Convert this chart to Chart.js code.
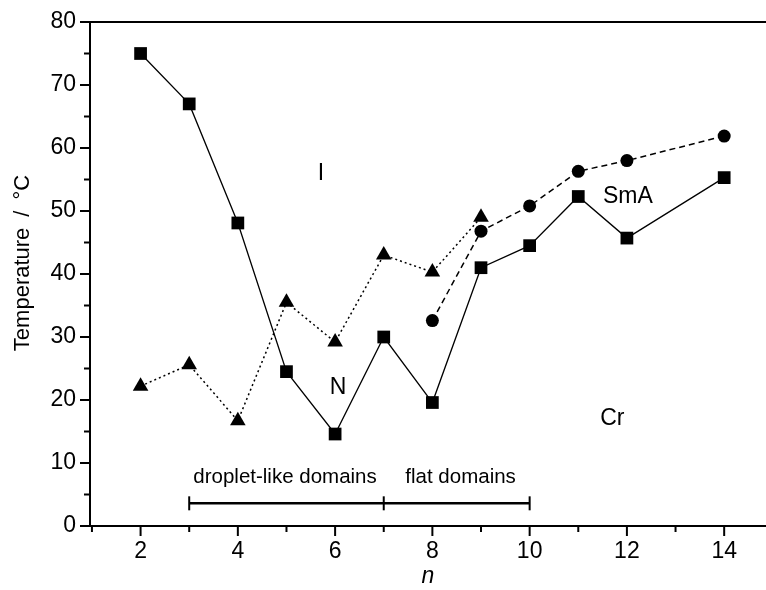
<!DOCTYPE html>
<html>
<head>
<meta charset="utf-8">
<script src="https://cdn.jsdelivr.net/npm/chart.js@4/dist/chart.umd.min.js"></script>
<style>
  body { margin: 0; background: #fff; }
  #wrap { width: 766px; height: 590px; }
</style>
</head>
<body>
<div id="wrap"><canvas id="phaseChart" width="766" height="590"></canvas></div>
<script>
// Cr -> N / SmA melting (squares, solid)
var nSquare = [2, 3, 4, 5, 6, 7, 8, 9, 10, 11, 12, 14];
var tSquare = [75, 67, 48.1, 24.5, 14.6, 30, 19.6, 41, 44.5, 52.3, 45.7, 55.3];
// N -> I clearing (triangles, dotted)
var nTriangle = [2, 3, 4, 5, 6, 7, 8, 9];
var tTriangle = [22.2, 25.6, 16.7, 35.5, 29.2, 43, 40.3, 49];
// SmA -> N / I (circles, dashed)
var nCircle = [8, 9, 10, 11, 12, 14];
var tCircle = [32.6, 46.8, 50.8, 56.3, 58, 61.9];
// domain range markers
var nDomain = [3, 7, 10];
var tDomain = [3.6, 3.6, 3.6];

// phase labels and domain captions: [text, n, T]
var phaseLabels = [["I", 5.71, 56], ["N", 6.06, 22], ["SmA", 12.02, 52.3], ["Cr", 11.7, 17]];
var domainLabels = [["droplet-like domains", 4.97, 7.8], ["flat domains", 8.58, 7.8]];

function toPoints(xs, ys) {
    var out = [];
    for (var i = 0; i < xs.length; i++) out.push({x: xs[i], y: ys[i]});
    return out;
}

var fontFamily = "'Liberation Sans', Arial, sans-serif";

var decorPlugin = {
    id: "decor",
    afterDraw: function(chart) {
        var ctx = chart.ctx;
        var area = chart.chartArea;
        var xs = chart.scales.x, ys = chart.scales.y;
        ctx.save();
        ctx.strokeStyle = "#000";
        ctx.lineWidth = 2;
        // top frame line
        ctx.beginPath();
        ctx.moveTo(area.left - 1, area.top);
        ctx.lineTo(chart.width, area.top);
        ctx.stroke();
        // x ticks
        xs.ticks.forEach(function(t) {
            var px = xs.getPixelForValue(t.value);
            var len = t.value % 2 === 0 ? 10 : 6;
            ctx.beginPath();
            ctx.moveTo(px, area.bottom);
            ctx.lineTo(px, area.bottom + len);
            ctx.stroke();
        });
        // y ticks
        ys.ticks.forEach(function(t) {
            var py = ys.getPixelForValue(t.value);
            var len = t.value % 10 === 0 ? 10 : 6;
            ctx.beginPath();
            ctx.moveTo(area.left, py);
            ctx.lineTo(area.left - len, py);
            ctx.stroke();
        });
        // text labels
        ctx.fillStyle = "#000";
        ctx.textAlign = "center";
        ctx.textBaseline = "middle";
        ctx.font = "23px " + fontFamily;
        phaseLabels.forEach(function(l) {
            ctx.fillText(l[0], xs.getPixelForValue(l[1]), ys.getPixelForValue(l[2]));
        });
        ctx.font = "20.5px " + fontFamily;
        domainLabels.forEach(function(l) {
            ctx.fillText(l[0], xs.getPixelForValue(l[1]), ys.getPixelForValue(l[2]));
        });
        ctx.restore();
    }
};

var phaseChart = new Chart(document.getElementById("phaseChart"), {
    type: "line",
    data: {
        datasets: [
            {
                label: "domains",
                data: toPoints(nDomain, tDomain),
                borderColor: "#000",
                borderWidth: 2.5,
                pointStyle: "line",
                rotation: 90,
                pointRadius: 7,
                pointBorderWidth: 2,
                pointBorderColor: "#000",
                fill: false
            },
            {
                label: "triangles",
                data: toPoints(nTriangle, tTriangle),
                borderColor: "#000",
                borderWidth: 1.5,
                borderDash: [2, 3],
                pointStyle: "triangle",
                pointRadius: 9,
                pointBackgroundColor: "#000",
                pointBorderColor: "#000",
                pointBorderWidth: 0,
                fill: false
            },
            {
                label: "circles",
                data: toPoints(nCircle, tCircle),
                borderColor: "#000",
                borderWidth: 1.5,
                borderDash: [6, 4],
                pointStyle: "circle",
                pointRadius: 6.5,
                pointBackgroundColor: "#000",
                pointBorderColor: "#000",
                pointBorderWidth: 0,
                fill: false
            },
            {
                label: "squares",
                data: toPoints(nSquare, tSquare),
                borderColor: "#000",
                borderWidth: 1.3,
                pointStyle: "rect",
                pointRadius: 9,
                pointBackgroundColor: "#000",
                pointBorderColor: "#000",
                pointBorderWidth: 0,
                fill: false
            }
        ]
    },
    options: {
        responsive: false,
        animation: false,
        layout: { autoPadding: false, padding: { top: 22, right: 0, left: 0, bottom: 0 } },
        plugins: { legend: { display: false }, tooltip: { enabled: false } },
        scales: {
            x: {
                type: "linear",
                min: 0.96,
                max: 14.86,
                afterFit: function(s) {
                    s.height = 64;
                    s.paddingLeft = 0;
                    s.paddingRight = 0;
                },
                border: { display: true, color: "#000", width: 2 },
                grid: { display: true, drawOnChartArea: false, drawTicks: false },
                ticks: {
                    stepSize: 1,
                    includeBounds: false,
                    autoSkip: false,
                    maxRotation: 0,
                    padding: 12,
                    color: "#000",
                    font: { family: fontFamily, size: 23 },
                    callback: function(v) { return v % 2 === 0 ? String(v) : ""; }
                },
                title: {
                    display: true,
                    text: "n",
                    color: "#000",
                    padding: { top: 0, bottom: 0 },
                    font: { family: fontFamily, size: 23, style: "italic" }
                }
            },
            y: {
                min: 0,
                max: 80,
                afterFit: function(s) {
                    s.width = 90;
                    s.paddingTop = 0;
                    s.paddingBottom = 0;
                },
                border: { display: true, color: "#000", width: 2 },
                grid: { display: true, drawOnChartArea: false, drawTicks: false },
                ticks: {
                    stepSize: 5,
                    autoSkip: false,
                    padding: 14,
                    color: "#000",
                    font: { family: fontFamily, size: 23 },
                    callback: function(v) { return v % 10 === 0 ? String(v) : ""; }
                },
                title: {
                    display: true,
                    text: "\u2003Temperature\u2002/\u2002\u00b0C",
                    color: "#000",
                    padding: { top: 10, bottom: 0 },
                    font: { family: fontFamily, size: 22 }
                }
            }
        }
    },
    plugins: [decorPlugin]
});
</script>
</body>
</html>
